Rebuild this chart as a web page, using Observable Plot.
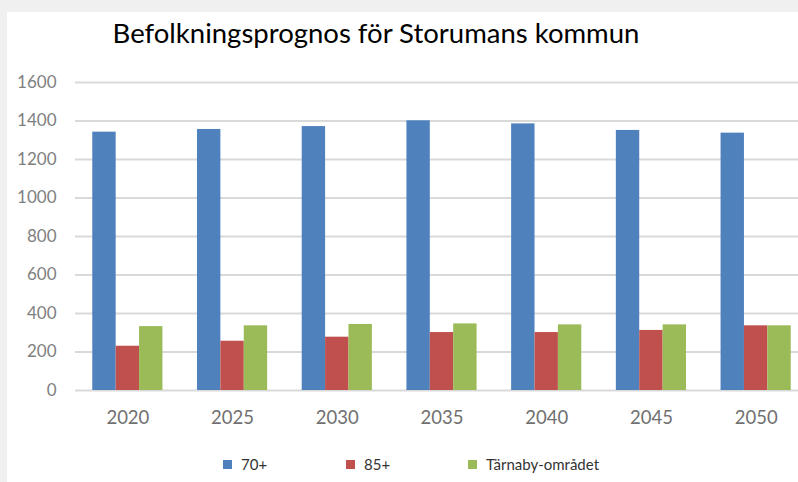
<!DOCTYPE html>
<html>
<head>
<meta charset="utf-8">
<script src="https://cdn.jsdelivr.net/npm/d3@7"></script>
<script src="https://cdn.jsdelivr.net/npm/@observablehq/plot@0.6"></script>
<style>
  html, body { margin: 0; padding: 0; background: #f0f0f0; overflow: hidden; width: 798px; height: 482px; }
  body { position: relative; font-family: Lato, "Open Sans", sans-serif; }
  #panel { position: absolute; left: 7px; top: 12px; width: 791px; height: 470px; background: #ffffff; }
  .layer { position: absolute; left: 0; top: 0; width: 798px; height: 482px; background: transparent; }
  #title { position: absolute; left: 0; width: 752px; top: 16px; text-align: center; font-size: 27.5px; color: #000; line-height: 1.2; white-space: nowrap; }
  .leg { position: absolute; top: 455px; font-size: 15px; color: #333; line-height: 18px; white-space: nowrap; }
  .leg span.sw { display: inline-block; width: 9px; height: 9px; margin-right: 9px; vertical-align: 1px; }
</style>
</head>
<body>
<div id="panel"></div>
<div id="grid" class="layer"></div>
<div id="chart" class="layer"></div>
<div id="title">Befolkningsprognos för Storumans kommun</div>
<div id="legend"></div>
<script>
const years = [2020, 2025, 2030, 2035, 2040, 2045, 2050];
const seriesNames = ["70+", "85+", "Tärnaby-området"];
const seriesColors = ["#4f81bd", "#c0504d", "#9bbb59"];
const values70 = [1342, 1356, 1371, 1401, 1385, 1351, 1337];
const values85 = [230, 256, 277, 301, 301, 312, 336];
const valuesTarnaby = [332, 336, 343, 346, 341, 341, 336];
const yTicks = [0, 200, 400, 600, 800, 1000, 1200, 1400, 1600];
const legendX = [223, 346, 468];

const seriesValues = [values70, values85, valuesTarnaby];
const data = [];
years.forEach((y, i) => {
  seriesNames.forEach((s, j) => data.push({year: y, series: s, value: seriesValues[j][i]}));
});

const common = {
  width: 798,
  height: 482,
  marginTop: 82,
  marginBottom: 92,
  marginLeft: 75,
  marginRight: -10,
  style: {background: "transparent", fontFamily: "Lato, 'Open Sans', sans-serif", overflow: "hidden"},
  y: {domain: [0, 1600], label: null, axis: null}
};

// background layer: gridlines and y axis across the whole frame
const gridPlot = Plot.plot({
  ...common,
  marks: [
    Plot.ruleY(yTicks, {stroke: "#d9d9d9", strokeWidth: 2}),
    Plot.axisY({ticks: yTicks, tickSize: 0, tickPadding: 19, tickFormat: d => String(d), fontSize: 17, fill: "#7f7f7f", label: null})
  ]
});
document.getElementById("grid").appendChild(gridPlot);

// bars layer: grouped bars by year
const barPlot = Plot.plot({
  ...common,
  fx: {domain: years, paddingInner: 0.33, paddingOuter: 0.165, round: false, label: null, axis: null},
  x: {domain: seriesNames, padding: 0, round: false, axis: null},
  color: {domain: seriesNames, range: seriesColors},
  marks: [
    Plot.barY(data, {fx: "year", x: "series", y: "value", fill: "series"}),
    Plot.axisFx({anchor: "bottom", tickSize: 0, tickPadding: 20, tickFormat: d => String(d), fontSize: 18.5, fill: "#707070", label: null})
  ]
});
document.getElementById("chart").appendChild(barPlot);

const legend = document.getElementById("legend");
seriesNames.forEach((s, j) => {
  const d = document.createElement("div");
  d.className = "leg";
  d.style.left = legendX[j] + "px";
  d.innerHTML = `<span class="sw" style="background:${seriesColors[j]}"></span>${s}`;
  legend.appendChild(d);
});
</script>
</body>
</html>
